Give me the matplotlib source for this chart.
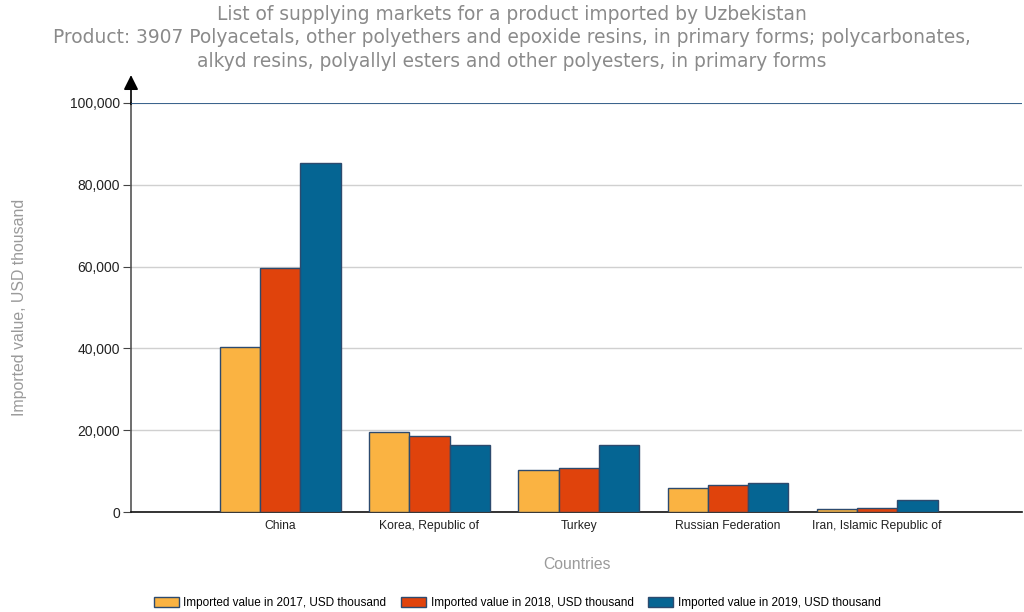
import numpy as np
import matplotlib
matplotlib.use('Agg')
from matplotlib import pyplot as plt
from matplotlib.ticker import FuncFormatter

countries = ['China', 'Korea, Republic of', 'Turkey', 'Russian Federation', 'Iran, Islamic Republic of']
v2017 = [40400, 19600, 10300, 5800, 700]
v2018 = [59600, 18700, 10800, 6600, 1000]
v2019 = [85400, 16500, 16300, 7000, 2900]
series_names = ['Imported value in 2017, USD thousand',
                'Imported value in 2018, USD thousand',
                'Imported value in 2019, USD thousand']
colors = ['#fab342', '#e0430c', '#056593']

fig = plt.figure(figsize=(10.24, 6.12), dpi=100)
ax = fig.add_axes([131 / 1024, 1 - 512 / 612, (1022 - 131) / 1024, (512 - 103) / 612])

x = np.arange(len(countries))
w = 0.27
for i, (vals, name, c) in enumerate(zip([v2017, v2018, v2019], series_names, colors)):
    ax.bar(x + (i - 1) * w, vals, w, color=c, edgecolor='#2d4a6e', linewidth=1.0,
           label=name, zorder=3)

ax.set_xlim(-1, 4.97)
ax.set_ylim(0, 100000)
ax.set_yticks(np.arange(0, 100001, 20000))
ax.yaxis.set_major_formatter(FuncFormatter(lambda v, p: f'{int(v):,}'))
ax.yaxis.grid(True, color='#d0d0d0', linewidth=1, zorder=0)
ax.axhline(100000, color='#1f4f80', linewidth=1.2, zorder=4)

ax.set_xticks(x)
ax.set_xticklabels(countries, fontsize=8.7, family='Liberation Sans', color='#222222')
ax.tick_params(axis='x', length=0, pad=6)
ax.tick_params(axis='y', length=6, direction='out', color='#444444', labelsize=10,
               labelcolor='#222222', pad=2)
for t in ax.get_yticklabels():
    t.set_family('Liberation Sans')

for s in ['top', 'right']:
    ax.spines[s].set_visible(False)
ax.spines['left'].set_color('#555555')
ax.spines['left'].set_linewidth(1.2)
ax.spines['bottom'].set_color('#111111')
ax.spines['bottom'].set_linewidth(1.2)

# arrow at top of y axis
ax.annotate('', xy=(-1, 107500), xytext=(-1, 99000), xycoords='data',
            arrowprops=dict(arrowstyle='-|>', color='black', lw=1.2, mutation_scale=22),
            annotation_clip=False)

ax.set_ylabel('Imported value, USD thousand', color='#9a9a9a', fontsize=11.4,
              family='Liberation Sans')
ax.yaxis.set_label_coords(-0.117, 0.5)
ax.set_xlabel('Countries', color='#9a9a9a', fontsize=11.3, family='Liberation Sans')
ax.xaxis.set_label_coords(0.5, -0.110)

fig.text(0.5, 0.992, 'List of supplying markets for a product imported by Uzbekistan\n'
         'Product: 3907 Polyacetals, other polyethers and epoxide resins, in primary forms; polycarbonates,\n'
         'alkyd resins, polyallyl esters and other polyesters, in primary forms',
         ha='center', va='top', color='#8a8a8a', fontsize=13.4, linespacing=1.3)

fig.legend(loc='lower center', bbox_to_anchor=(0.505, -0.012), ncol=3, frameon=False,
           prop={'family': 'Liberation Sans', 'size': 8.5}, handlelength=2.1, handleheight=0.9,
           columnspacing=1.25, handletextpad=0.4)

fig.savefig('out.png', dpi=100)
